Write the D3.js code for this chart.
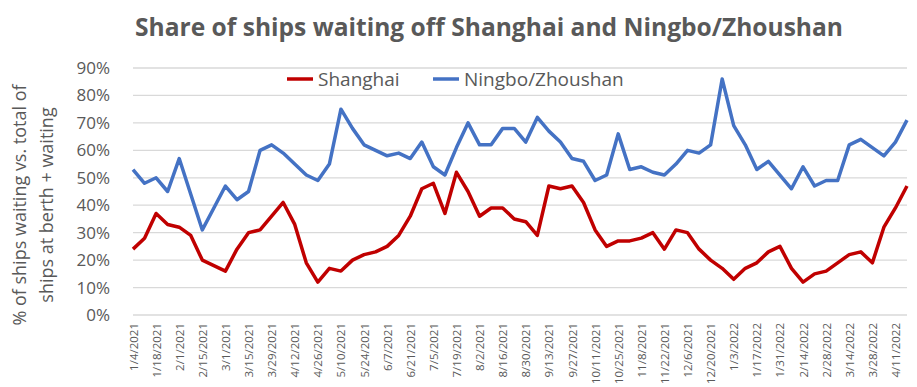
<!DOCTYPE html>
<html>
<head>
<meta charset="utf-8">
<script src="https://cdn.jsdelivr.net/npm/d3@7"></script>
<style>
  body { margin: 0; background: #fff; }
  text { font-family: "Open Sans", "Noto Sans", sans-serif; fill: #595959; }
</style>
</head>
<body>
<div id="chart"></div>
<script>
// weekly observations, Mondays
var weeks = [
  "1/4/2021","1/11/2021","1/18/2021","1/25/2021","2/1/2021","2/8/2021","2/15/2021","2/22/2021",
  "3/1/2021","3/8/2021","3/15/2021","3/22/2021","3/29/2021","4/5/2021","4/12/2021","4/19/2021",
  "4/26/2021","5/3/2021","5/10/2021","5/17/2021","5/24/2021","5/31/2021","6/7/2021","6/14/2021",
  "6/21/2021","6/28/2021","7/5/2021","7/12/2021","7/19/2021","7/26/2021","8/2/2021","8/9/2021",
  "8/16/2021","8/23/2021","8/30/2021","9/6/2021","9/13/2021","9/20/2021","9/27/2021","10/4/2021",
  "10/11/2021","10/18/2021","10/25/2021","11/1/2021","11/8/2021","11/15/2021","11/22/2021","11/29/2021",
  "12/6/2021","12/13/2021","12/20/2021","12/27/2021","1/3/2022","1/10/2022","1/17/2022","1/24/2022",
  "1/31/2022","2/7/2022","2/14/2022","2/21/2022","2/28/2022","3/7/2022","3/14/2022","3/21/2022",
  "3/28/2022","4/4/2022","4/11/2022","4/18/2022"
];

var shanghai = [
  24,28,37,33,32,29,20,18,16,24,30,31,36,41,33,19,
  12,17,16,20,22,23,25,29,36,46,48,37,52,45,36,39,
  39,35,34,29,47,46,47,41,31,25,27,27,28,30,24,31,
  30,24,20,17,13,17,19,23,25,17,12,15,16,19,22,23,
  19,32,39,47
];

var ningbo = [
  53,48,50,45,57,44,31,39,47,42,45,60,62,59,55,51,
  49,55,75,68,62,60,58,59,57,63,54,51,61,70,62,62,
  68,68,63,72,67,63,57,56,49,51,66,53,54,52,51,55,
  60,59,62,86,69,62,53,56,51,46,54,47,49,49,62,64,
  61,58,63,71
];

var yTicks = [0, 10, 20, 30, 40, 50, 60, 70, 80, 90];

var width = 917, height = 387;
var margin = {left: 133, right: 10, top: 68, bottom: 72};

var svg = d3.select("#chart").append("svg")
    .attr("width", width)
    .attr("height", height);

var x = d3.scalePoint()
    .domain(weeks)
    .range([margin.left, width - margin.right]);

var y = d3.scaleLinear()
    .domain([0, 90])
    .range([height - margin.bottom, margin.top]);

// gridlines
svg.append("g")
    .selectAll("line")
    .data(yTicks)
    .enter().append("line")
    .attr("x1", margin.left)
    .attr("x2", width - margin.right)
    .attr("y1", function(d) { return y(d); })
    .attr("y2", function(d) { return y(d); })
    .attr("stroke", "#d9d9d9")
    .attr("stroke-width", 1.3);

// y axis labels
var yAxis = svg.append("g")
    .attr("transform", "translate(" + (margin.left - 20) + ",0)")
    .call(d3.axisLeft(y).tickValues(yTicks).tickSize(0).tickFormat(function(d) { return d + "%"; }));
yAxis.select(".domain").remove();
yAxis.selectAll("text")
    .attr("font-size", 17)
    .attr("font-family", "Open Sans")
    .attr("fill", "#595959");

// x axis labels, every other week
var xAxis = svg.append("g")
    .attr("transform", "translate(0," + (height - margin.bottom) + ")")
    .call(d3.axisBottom(x)
        .tickValues(weeks.filter(function(d, i) { return i % 2 === 0; }))
        .tickSize(0));
xAxis.select(".domain").remove();
xAxis.selectAll("text")
    .attr("font-size", 11.5)
    .attr("fill", "#595959")
    .attr("text-anchor", "end")
    .attr("transform", "rotate(-90)")
    .attr("x", -8)
    .attr("y", 0)
    .attr("dy", "0.35em");

// lines
var line = function(vals) {
  return d3.line()
    .x(function(d, i) { return x(weeks[i]); })
    .y(function(d) { return y(d); })(vals);
};

svg.append("path")
    .attr("d", line(ningbo))
    .attr("fill", "none")
    .attr("stroke", "#4472c4")
    .attr("stroke-width", 3.5)
    .attr("stroke-linejoin", "round");

svg.append("path")
    .attr("d", line(shanghai))
    .attr("fill", "none")
    .attr("stroke", "#c00000")
    .attr("stroke-width", 3.5)
    .attr("stroke-linejoin", "round");

// title
svg.append("text")
    .attr("x", 489)
    .attr("y", 36)
    .attr("text-anchor", "middle")
    .attr("font-size", 25)
    .attr("font-weight", "bold")
    .attr("textLength", 708)
    .attr("lengthAdjust", "spacingAndGlyphs")
    .text("Share of ships waiting off Shanghai and Ningbo/Zhoushan");

// y title
var yt = svg.append("text")
    .attr("transform", "translate(0,205) rotate(-90)")
    .attr("text-anchor", "middle")
    .attr("font-size", 18);
yt.append("tspan").attr("x", 0).attr("y", 26).text("% of ships waiting vs. total of");
yt.append("tspan").attr("x", 0).attr("y", 53).text("ships at berth + waiting");

// legend
var legend = [
  {name: "Shanghai", color: "#c00000", x: 287},
  {name: "Ningbo/Zhoushan", color: "#4472c4", x: 433}
];
var lg = svg.append("g").selectAll("g").data(legend).enter().append("g");
lg.append("line")
    .attr("x1", function(d) { return d.x; })
    .attr("x2", function(d) { return d.x + 26; })
    .attr("y1", 79).attr("y2", 79)
    .attr("stroke", function(d) { return d.color; })
    .attr("stroke-width", 3.5);
lg.append("text")
    .attr("x", function(d) { return d.x + 31; })
    .attr("y", 86)
    .attr("font-size", 19)
    .text(function(d) { return d.name; });
</script>
</body>
</html>
